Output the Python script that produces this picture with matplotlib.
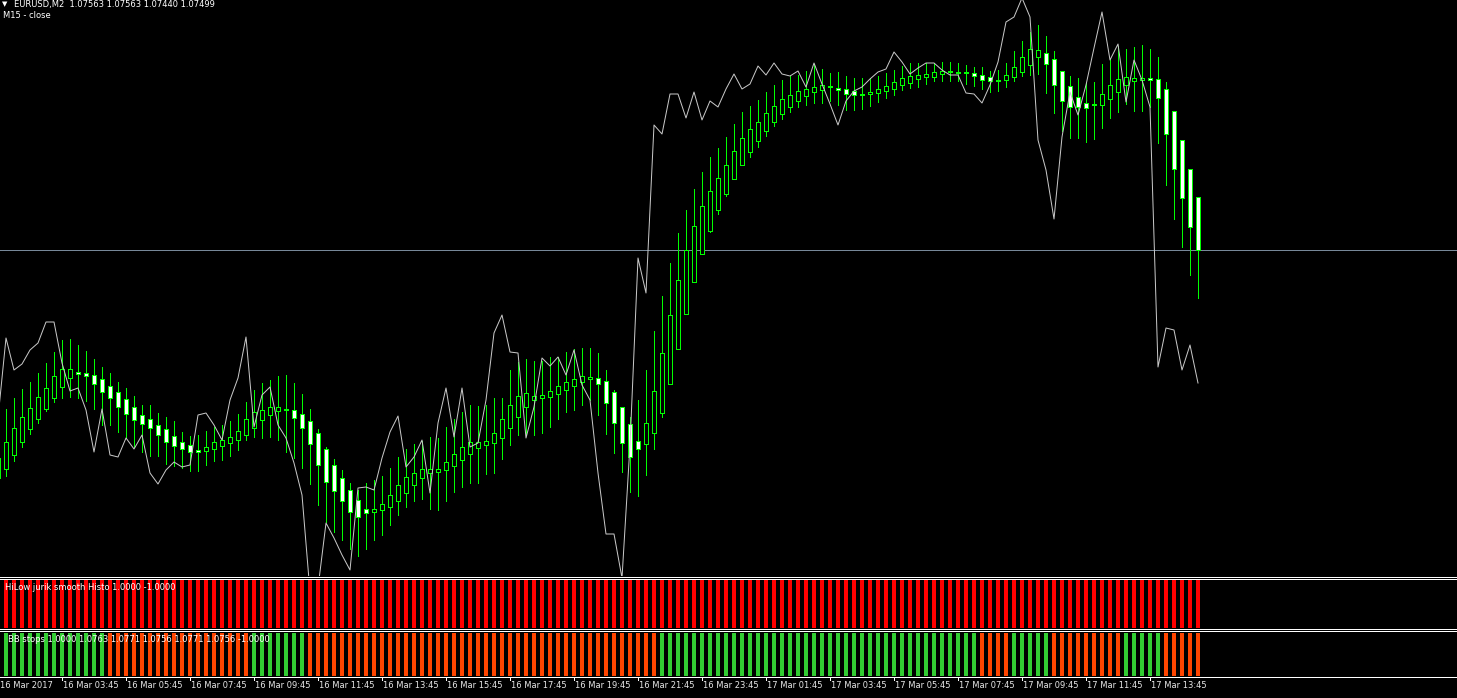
import numpy as np
import matplotlib
matplotlib.use("Agg")
import matplotlib.pyplot as plt
from matplotlib.patches import Rectangle
from matplotlib.lines import Line2D

# bar index -1 is the partly hidden candle at the left edge
bars = list(range(-1, 150))

opens = [1.07271, 1.07280, 1.07294, 1.07307, 1.07320, 1.07330, 1.07340, 1.07351, 1.07362, 1.07371,
         1.07377, 1.07376, 1.07374, 1.07370, 1.07363, 1.07357, 1.07350, 1.07342, 1.07334, 1.07330,
         1.07324, 1.07320, 1.07313, 1.07307, 1.07304, 1.07299, 1.07298, 1.07300, 1.07303, 1.07306,
         1.07309, 1.07314, 1.07321, 1.07329, 1.07334, 1.07338, 1.07340, 1.07339, 1.07335, 1.07328,
         1.07316, 1.07300, 1.07284, 1.07271, 1.07259, 1.07249, 1.07240, 1.07237, 1.07239, 1.07242,
         1.07248, 1.07256, 1.07264, 1.07271, 1.07276, 1.07277, 1.07279, 1.07283, 1.07289, 1.07295,
         1.07301, 1.07304, 1.07306, 1.07311, 1.07321, 1.07332, 1.07342, 1.07349, 1.07351, 1.07352,
         1.07355, 1.07359, 1.07363, 1.07367, 1.07370, 1.07371, 1.07368, 1.07357, 1.07342, 1.07325,
         1.07308, 1.07305, 1.07316, 1.07336, 1.07365, 1.07400, 1.07435, 1.07467, 1.07495, 1.07518,
         1.07539, 1.07555, 1.07570, 1.07584, 1.07597, 1.07608, 1.07618, 1.07627, 1.07635, 1.07642,
         1.07648, 1.07653, 1.07657, 1.07659, 1.07662, 1.07661, 1.07660, 1.07658, 1.07654, 1.07655,
         1.07656, 1.07658, 1.07660, 1.07664, 1.07666, 1.07670, 1.07672, 1.07672, 1.07675, 1.07677,
         1.07676, 1.07677, 1.07676, 1.07674, 1.07672, 1.07668, 1.07669, 1.07672, 1.07677, 1.07684,
         1.07692, 1.07696, 1.07690, 1.07678, 1.07663, 1.07652, 1.07646, 1.07644, 1.07644, 1.07650,
         1.07657, 1.07664, 1.07668, 1.07669, 1.07671, 1.07670, 1.07660, 1.07638, 1.07609, 1.07580,
         1.07552]
highs = [1.07295, 1.07340, 1.07351, 1.07360, 1.07367, 1.07376, 1.07386, 1.07397, 1.07409, 1.07410,
         1.07404, 1.07398, 1.07390, 1.07382, 1.07376, 1.07367, 1.07361, 1.07353, 1.07344, 1.07344,
         1.07336, 1.07332, 1.07328, 1.07317, 1.07313, 1.07314, 1.07318, 1.07322, 1.07324, 1.07328,
         1.07335, 1.07347, 1.07359, 1.07366, 1.07369, 1.07373, 1.07374, 1.07366, 1.07355, 1.07340,
         1.07320, 1.07302, 1.07290, 1.07279, 1.07266, 1.07259, 1.07266, 1.07269, 1.07273, 1.07281,
         1.07292, 1.07300, 1.07305, 1.07308, 1.07312, 1.07311, 1.07322, 1.07330, 1.07337, 1.07344,
         1.07343, 1.07344, 1.07351, 1.07351, 1.07379, 1.07387, 1.07390, 1.07388, 1.07388, 1.07392,
         1.07392, 1.07397, 1.07400, 1.07401, 1.07401, 1.07396, 1.07379, 1.07359, 1.07342, 1.07332,
         1.07349, 1.07379, 1.07418, 1.07453, 1.07486, 1.07516, 1.07539, 1.07560, 1.07577, 1.07592,
         1.07601, 1.07612, 1.07625, 1.07637, 1.07643, 1.07649, 1.07657, 1.07664, 1.07669, 1.07673,
         1.07674, 1.07678, 1.07685, 1.07680, 1.07676, 1.07677, 1.07673, 1.07671, 1.07671, 1.07671,
         1.07673, 1.07676, 1.07679, 1.07683, 1.07686, 1.07686, 1.07686, 1.07686, 1.07687, 1.07687,
         1.07686, 1.07684, 1.07682, 1.07682, 1.07678, 1.07679, 1.07686, 1.07698, 1.07708, 1.07717,
         1.07724, 1.07713, 1.07698, 1.07678, 1.07673, 1.07671, 1.07666, 1.07667, 1.07685, 1.07690,
         1.07703, 1.07700, 1.07702, 1.07704, 1.07700, 1.07692, 1.07667, 1.07638, 1.07609, 1.07580,
         1.07552]
lows = [1.07266, 1.07273, 1.07288, 1.07302, 1.07315, 1.07326, 1.07338, 1.07347, 1.07351, 1.07352,
        1.07351, 1.07348, 1.07340, 1.07324, 1.07324, 1.07317, 1.07311, 1.07302, 1.07297, 1.07293,
        1.07293, 1.07285, 1.07283, 1.07281, 1.07278, 1.07278, 1.07284, 1.07288, 1.07289, 1.07293,
        1.07299, 1.07309, 1.07312, 1.07311, 1.07312, 1.07309, 1.07297, 1.07291, 1.07281, 1.07265,
        1.07244, 1.07227, 1.07217, 1.07209, 1.07200, 1.07193, 1.07200, 1.07209, 1.07214, 1.07224,
        1.07234, 1.07242, 1.07248, 1.07250, 1.07240, 1.07239, 1.07248, 1.07257, 1.07262, 1.07266,
        1.07266, 1.07275, 1.07276, 1.07290, 1.07304, 1.07314, 1.07314, 1.07314, 1.07316, 1.07322,
        1.07330, 1.07337, 1.07339, 1.07344, 1.07349, 1.07334, 1.07315, 1.07296, 1.07277, 1.07257,
        1.07253, 1.07274, 1.07300, 1.07332, 1.07365, 1.07400, 1.07435, 1.07467, 1.07495, 1.07517,
        1.07535, 1.07553, 1.07570, 1.07584, 1.07592, 1.07602, 1.07613, 1.07623, 1.07630, 1.07637,
        1.07642, 1.07644, 1.07646, 1.07646, 1.07648, 1.07644, 1.07639, 1.07639, 1.07640, 1.07643,
        1.07647, 1.07651, 1.07654, 1.07659, 1.07661, 1.07662, 1.07665, 1.07668, 1.07668, 1.07668,
        1.07668, 1.07665, 1.07663, 1.07660, 1.07657, 1.07658, 1.07662, 1.07668, 1.07673, 1.07674,
        1.07675, 1.07656, 1.07636, 1.07618, 1.07611, 1.07611, 1.07607, 1.07610, 1.07621, 1.07631,
        1.07637, 1.07645, 1.07638, 1.07638, 1.07642, 1.07606, 1.07564, 1.07530, 1.07502, 1.07474,
        1.07451]
closes = [1.07291, 1.07307, 1.07321, 1.07332, 1.07341, 1.07352, 1.07361, 1.07373, 1.07380, 1.07380,
          1.07375, 1.07373, 1.07365, 1.07357, 1.07351, 1.07342, 1.07335, 1.07329, 1.07325, 1.07321,
          1.07314, 1.07307, 1.07303, 1.07300, 1.07297, 1.07297, 1.07302, 1.07307, 1.07309, 1.07312,
          1.07318, 1.07330, 1.07337, 1.07339, 1.07342, 1.07342, 1.07339, 1.07331, 1.07321, 1.07305,
          1.07284, 1.07267, 1.07258, 1.07248, 1.07237, 1.07232, 1.07236, 1.07240, 1.07245, 1.07254,
          1.07264, 1.07272, 1.07276, 1.07280, 1.07280, 1.07280, 1.07287, 1.07295, 1.07302, 1.07307,
          1.07307, 1.07308, 1.07316, 1.07330, 1.07344, 1.07353, 1.07356, 1.07353, 1.07354, 1.07358,
          1.07363, 1.07367, 1.07370, 1.07373, 1.07372, 1.07365, 1.07346, 1.07326, 1.07306, 1.07292,
          1.07300, 1.07326, 1.07358, 1.07396, 1.07434, 1.07469, 1.07499, 1.07523, 1.07543, 1.07558,
          1.07571, 1.07584, 1.07598, 1.07611, 1.07620, 1.07627, 1.07636, 1.07643, 1.07650, 1.07654,
          1.07658, 1.07660, 1.07662, 1.07664, 1.07663, 1.07659, 1.07655, 1.07654, 1.07655, 1.07657,
          1.07660, 1.07663, 1.07667, 1.07671, 1.07673, 1.07674, 1.07675, 1.07677, 1.07678, 1.07678,
          1.07677, 1.07676, 1.07673, 1.07669, 1.07668, 1.07669, 1.07674, 1.07682, 1.07692, 1.07700,
          1.07699, 1.07685, 1.07664, 1.07648, 1.07642, 1.07642, 1.07641, 1.07645, 1.07655, 1.07664,
          1.07670, 1.07672, 1.07671, 1.07671, 1.07669, 1.07651, 1.07615, 1.07580, 1.07551, 1.07522,
          1.07499]

# "M15 - close" line, one value per bar
m15_close = [1.07331, 1.07411, 1.07379, 1.07385, 1.07399, 1.07406, 1.07427, 1.07427, 1.07386, 1.07358,
             1.07361, 1.07339, 1.07297, 1.07340, 1.07294, 1.07292, 1.07311, 1.07300, 1.07314, 1.07276,
             1.07265, 1.07279, 1.07287, 1.07282, 1.07284, 1.07334, 1.07336, 1.07324, 1.07309, 1.07349,
             1.07371, 1.07412, 1.07322, 1.07354, 1.07362, 1.07324, 1.07311, 1.07286, 1.07254, 1.07157,
             1.07161, 1.07226, 1.07211, 1.07194, 1.07179, 1.07261, 1.07262, 1.07259, 1.07291, 1.07317,
             1.07333, 1.07282, 1.07292, 1.07309, 1.07256, 1.07326, 1.07361, 1.07312, 1.07361, 1.07302,
             1.07306, 1.07349, 1.07416, 1.07434, 1.07397, 1.07396, 1.07311, 1.07342, 1.07391, 1.07383,
             1.07392, 1.07374, 1.07399, 1.07364, 1.07349, 1.07276, 1.07215, 1.07215, 1.07171, 1.07304,
             1.07491, 1.07456, 1.07624, 1.07615, 1.07655, 1.07655, 1.07631, 1.07657, 1.07629, 1.07648,
             1.07642, 1.07660, 1.07675, 1.07660, 1.07665, 1.07683, 1.07674, 1.07686, 1.07675, 1.07673,
             1.07678, 1.07662, 1.07686, 1.07665, 1.07645, 1.07624, 1.07648, 1.07658, 1.07662, 1.07670,
             1.07677, 1.07680, 1.07697, 1.07687, 1.07675, 1.07681, 1.07686, 1.07686, 1.07679, 1.07674,
             1.07674, 1.07656, 1.07655, 1.07646, 1.07664, 1.07687, 1.07727, 1.07732, 1.07751, 1.07732,
             1.07609, 1.07579, 1.07530, 1.07612, 1.07657, 1.07634, 1.07664, 1.07701, 1.07737, 1.07689,
             1.07705, 1.07647, 1.07689, 1.07669, 1.07642, 1.07382, 1.07421, 1.07419, 1.07379, 1.07404,
             1.07366]

bid = 1.07499

# BB stops state per bar (bars 0..149): G = up (green), O = down (orange)
bb_state = ("GGGGGGGGGGGGG" "OOOOOOOOOOOOOOOOOO" "GGGGGGG"
            "OOOOOOOOOOOOOOOOOOOOOOOOOOOOOOOOOOOOOOOOOOOO"
            "GGGGGGGGGGGGGGGGGGGGGGGGGGGGGGGGGGGGGGGG" "OOOO" "GGGGG"
            "OOOOOOOOO" "GGGGG" "OOOOO")

tick_labels = ["16 Mar 03:45", "16 Mar 05:45", "16 Mar 07:45", "16 Mar 09:45", "16 Mar 11:45",
               "16 Mar 13:45", "16 Mar 15:45", "16 Mar 17:45", "16 Mar 19:45", "16 Mar 21:45",
               "16 Mar 23:45", "17 Mar 01:45", "17 Mar 03:45", "17 Mar 05:45", "17 Mar 07:45",
               "17 Mar 09:45", "17 Mar 11:45", "17 Mar 13:45"]
tick_bars = list(range(7, 7 + 8 * len(tick_labels), 8))

W, H = 1457, 698
LIME = "#00FF00"
PX = 72.0 / 100  # one pixel in points

fig = plt.figure(figsize=(W / 100, H / 100), dpi=100, facecolor="black")


def fpos(top, bottom):
    return [0, 1 - bottom / H, 1, (bottom - top) / H]


def bare(ax):
    ax.set_facecolor("black")
    for s in ax.spines.values():
        s.set_visible(False)
    ax.set_xticks([])
    ax.set_yticks([])
    ax.set_xlim(-6 / 8, (W - 6) / 8)


ax = fig.add_axes(fpos(0, 576))
bare(ax)
top_price = 1.07749
ax.set_ylim(top_price - 576e-5, top_price)

ax.axhline(bid, color="#778899", lw=PX, zorder=1)

bw = 0.6
for x, o, h, l, c in zip(bars, opens, highs, lows, closes):
    ax.vlines(x, l, h, color=LIME, lw=PX, zorder=2, antialiased=False)
    lo, hi = min(o, c), max(o, c)
    fc = "white" if c < o else "black"
    ax.add_patch(Rectangle((x - bw / 2, lo), bw, max(hi - lo, 1e-5),
                           facecolor=fc, edgecolor=LIME, lw=PX, zorder=3,
                           antialiased=False))

ax.plot(bars, m15_close, color="#C8C8C8", lw=PX, zorder=4)

# HiLow jurik smooth histogram
ax1 = fig.add_axes(fpos(579, 628))
bare(ax1)
ax1.set_ylim(0, 1.02)
hb = bars[1:]
ax1.bar(hb, [1] * len(hb), width=0.55, color="#FF0000", antialiased=False)

# BB stops histogram
ax2 = fig.add_axes(fpos(631, 676))
bare(ax2)
ax2.set_ylim(0, 1.04)
bb_cols = ["#32CD32" if s == "G" else "#FF4500" for s in bb_state]
ax2.bar(hb, [1] * len(hb), width=0.38, color=bb_cols, antialiased=False)

# separators between the windows
for y in (576.5, 578.5, 628.5, 630.5, 676.5):
    fig.add_artist(Line2D([0, 1], [1 - y / H] * 2, color="white", lw=PX,
                          transform=fig.transFigure))

# time axis
for b, lab in zip(tick_bars, tick_labels):
    xp = 6 + 8 * b
    fig.add_artist(Line2D([xp / W] * 2, [1 - 677 / H, 1 - 680 / H], color="white",
                          lw=PX, transform=fig.transFigure))
    fig.text((xp + 1) / W, 1 - 688.5 / H, lab, color="#E8E8E8", fontsize=6,
             ha="left", va="baseline")
fig.text(0, 1 - 688.5 / H, "16 Mar 2017", color="#E8E8E8", fontsize=6,
         ha="left", va="baseline")

# window captions
fig.text(2 / W, 1 - 6.5 / H, "\u25BC", color="white", fontsize=5, ha="left", va="baseline")
fig.text(14 / W, 1 - 6.5 / H, "EURUSD,M2  1.07563 1.07563 1.07440 1.07499", color="white",
         fontsize=6, ha="left", va="baseline")
fig.text(3 / W, 1 - 18.5 / H, "M15 - close", color="white", fontsize=6, ha="left", va="baseline")
fig.text(5 / W, 1 - 590.5 / H, "HiLow jurik smooth Histo 1.0000 -1.0000", color="white",
         fontsize=6, ha="left", va="baseline")
fig.text(8 / W, 1 - 642.5 / H, "BB stops 1.0000 1.0763 1.0771 1.0756 1.0771 1.0756 -1.0000",
         color="white", fontsize=6, ha="left", va="baseline")

fig.savefig("out.png", dpi=100, facecolor="black")
